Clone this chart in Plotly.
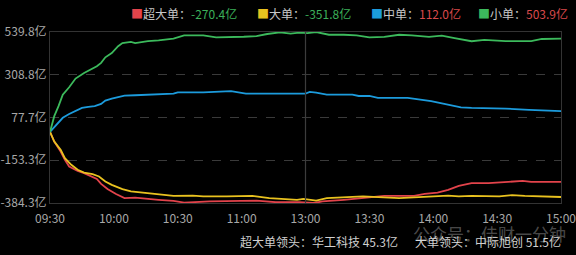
import plotly.graph_objects as go

# ---- data (亿元, cumulative net inflow) ----
green_t = ["09:30","09:32","09:34","09:36","09:39","09:42","09:46","09:50","09:52","09:54","09:56","09:59",
           "10:02","10:04","10:08","10:10","10:13","10:16","10:21","10:28","10:33","10:42","10:48","10:55",
           "11:01","11:07","11:12","11:18","11:23","11:27","13:01","13:05","13:11","13:18","13:24","13:30",
           "13:37","13:44","13:50","13:58","14:04","14:10","14:18","14:24","14:34","14:46","14:51","15:00"]
green_v = [0,85,139,201,241,288,318,342,355,373,403,426,
           463,480,486,480,487,490,495,504,522,522,511,511,
           514,517,529,538,531,536,534,539.8,525,525,522,511,
           513,525,522,513,520,507,490,497,490,490,502,503.9]

blue_t = ["09:30","09:33","09:36","09:39","09:42","09:45","09:48","09:51","09:54","09:56","09:59","10:02",
          "10:05","10:10","10:15","10:19","10:28","10:30","10:42","10:55","11:02","11:13","11:30","13:02",
          "13:05","13:10","13:22","13:25","13:30","13:34","13:48","13:59","14:07","14:13","14:18","14:34",
          "14:45","14:56","15:00"]
blue_v = [0,39,76,97,115,130,135,139,151,169,180,189,
          196,198,201,205,207,214,214,220,207,207,207,216,
          212,201,201,194,194,184,184,166,147,133,130,126,
          119,113,112.0]

yellow_t = ["09:30","09:32","09:35","09:37","09:40","09:43","09:46","09:50","09:53","09:56","09:59","10:04",
            "10:08","10:15","10:21","10:28","10:37","10:42","10:53","11:05","11:13","11:26","11:29","13:05",
            "13:10","13:18","13:27","13:44","13:56","14:07","14:12","14:18","14:31","14:37","14:43","15:00"]
yellow_v = [0,-52,-97,-142,-178,-205,-220,-228,-241,-268,-286,-309,
            -322,-331,-340,-346,-344,-349,-349,-346,-358,-367,-362,-371,
            -358,-355,-349,-358,-349,-344,-349,-346,-349,-342,-346,-351.8]

red_t = ["09:30","09:32","09:35","09:37","09:39","09:43","09:46","09:49","09:52","09:54","09:57","10:01",
         "10:05","10:10","10:15","10:21","10:28","10:33","10:45","10:58","11:07","11:16","11:27","13:04",
         "13:08","13:18","13:27","13:37","13:51","13:56","14:02","14:07","14:12","14:18","14:26","14:35",
         "14:42","14:46","15:00"]
red_v = [0,-52,-106,-151,-187,-211,-223,-238,-254,-281,-309,-336,
         -358,-355,-362,-367,-373,-382,-376,-371,-371,-380,-380,-384.3,
         -376,-367,-358,-346,-346,-335,-328,-313,-292,-277,-277,-272,
         -265,-270,-270.4]

x_ticks = ["09:30","10:00","10:30","11:00","13:00","13:30","14:00","14:30","15:00"]
y_ticktext = ["539.8亿","308.8亿","77.7亿","-153.3亿","-384.3亿"]
y_max, y_min = 539.8, -384.3

legend_names = ["超大单", "大单", "中单", "小单"]
legend_vals = ["-270.4亿", "-351.8亿", "112.0亿", "503.9亿"]
footer_left = "超大单领头：华工科技 45.3亿"
footer_right = "大单领头：中际旭创 51.5亿"
watermark = "公众号：佳财一分钟"

# ---- styling ----
RED, YELLOW, BLUE, GREEN = "#e2434b", "#e9c21f", "#1c9bdc", "#3cba5c"
UP, DOWN = "#d9494b", "#3cb05a"
GRAY = "#a8a8a8"
FONT = "Noto Sans CJK SC"

L, R, T, B = 50, 15, 32, 52
PW, PH = 576 - L - R, 255 - T - B


def session_minute(s):
    h, m = map(int, s.split(":"))
    mins = h * 60 + m
    if mins <= 11 * 60 + 30:
        return mins - (9 * 60 + 30)
    return 120 + mins - 13 * 60


def xs(times):
    return [session_minute(t) for t in times]


def px_x(px):
    return (px - L) / PW


def px_y(py):
    return (255 - B - py) / PH


fig = go.Figure()
for t, v, c in [(red_t, red_v, RED), (yellow_t, yellow_v, YELLOW),
                (blue_t, blue_v, BLUE), (green_t, green_v, GREEN)]:
    fig.add_trace(go.Scatter(x=xs(t), y=v, mode="lines",
                             line=dict(color=c, width=1.8), hoverinfo="skip"))

step = (y_max - y_min) / 4
y_tickvals = [y_max - i * step for i in range(5)]

fig.update_layout(
    width=576, height=255,
    margin=dict(l=L, r=R, t=T, b=B, autoexpand=False),
    paper_bgcolor="black", plot_bgcolor="black",
    showlegend=False,
    font=dict(family=FONT, size=12, color=GRAY),
    xaxis=dict(range=[0, 240], tickvals=xs(x_ticks), ticktext=x_ticks,
               showgrid=False, zeroline=False, showline=True, mirror=True,
               linecolor="#333333", linewidth=1, ticks="", automargin=False,
               ticklabeloverflow="allow", ticklabelstandoff=5,
               tickfont=dict(size=12, color=GRAY, family=FONT)),
    yaxis=dict(range=[y_min, y_max], tickvals=y_tickvals, ticktext=y_ticktext,
               showgrid=True, gridcolor="#3a3a3a", griddash="dash", gridwidth=1,
               zeroline=False, showline=True, mirror=True, automargin=False,
               ticklabeloverflow="allow",
               linecolor="#333333", linewidth=1, ticks="",
               tickfont=dict(size=12, color=GRAY, family=FONT)),
)

# 13:00 divider
fig.add_shape(type="line", xref="x", yref="paper", x0=session_minute("13:00"),
              x1=session_minute("13:00"), y0=0, y1=1,
              line=dict(color="#3c3c3c", width=1.2))

# legend as annotations
sq_colors = [RED, YELLOW, BLUE, GREEN]
leg_x = [129, 255, 369, 476]
for name, val, c, px in zip(legend_names, legend_vals, sq_colors, leg_x):
    vc = DOWN if val.startswith("-") else UP
    fig.add_annotation(
        xref="paper", yref="paper", x=px_x(px), y=px_y(14),
        xanchor="left", yanchor="middle", showarrow=False,
        text=f"<span style='color:{c}'>■</span>{name}：<span style='color:{vc}'>{val}</span>",
        font=dict(size=12, color="#c8c8c8", family=FONT))

# footer
fig.add_annotation(xref="paper", yref="paper", x=px_x(238), y=px_y(241),
                   xanchor="left", yanchor="middle", showarrow=False,
                   text=footer_left, font=dict(size=12, color="#d0d0d0", family=FONT))
fig.add_annotation(xref="paper", yref="paper", x=px_x(563), y=px_y(241),
                   xanchor="right", yanchor="middle", showarrow=False,
                   text=footer_right, font=dict(size=12, color="#d0d0d0", family=FONT))
# watermark
fig.add_annotation(xref="paper", yref="paper", x=px_x(568), y=px_y(233),
                   xanchor="right", yanchor="middle", showarrow=False,
                   text=watermark, font=dict(size=17, color="rgba(255,255,255,0.3)", family=FONT))

fig.write_html("out.html")
